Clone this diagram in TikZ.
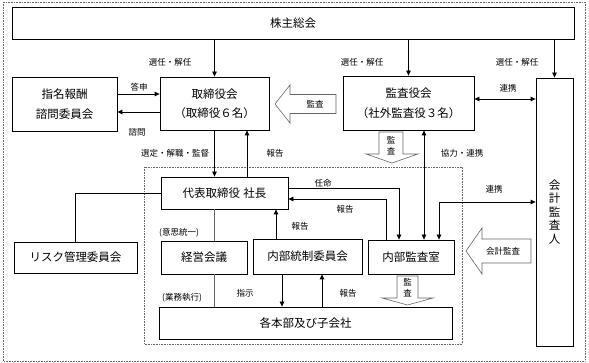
\documentclass[tikz,border=0pt]{standalone}
\usepackage{fontspec}
\newfontfamily\cjk{Noto Sans CJK JP}
\usetikzlibrary{arrows.meta,calc}
\begin{document}
\begin{tikzpicture}[x=1pt,y=-1pt,
  box/.style={draw, line width=0.8pt, rectangle, inner sep=0pt, font=\cjk\fontsize{11.5}{19.5}\selectfont, align=center},
  lbl/.style={font=\cjk\fontsize{8.5}{11}\selectfont, inner sep=0pt, align=center},
  con/.style={line width=0.8pt},
  arr/.style={con, -{Triangle[length=5pt,width=4.5pt]}},
  darr/.style={con, {Triangle[length=5pt,width=4.5pt]}-{Triangle[length=5pt,width=4.5pt]}},
  hollow/.style={draw=black!60, fill=white, line width=0.6pt},
  thinline/.style={line width=0.5pt, black!60},
  frame/.style={densely dotted, line width=0.6pt, black!60}]
\useasboundingbox (0,0) rectangle (589,363);
\draw[frame] (3,2) rectangle (585,361);
\draw[frame] (144,167) rectangle (462,344);

% boxes
\node[box, minimum width=562pt, minimum height=32pt] (kabu) at (293,23) {株主総会};
\node[box, minimum width=109pt, minimum height=53pt] (tori) at (214.5,103.5) {取締役会\\（取締役６名）};
\node[box, minimum width=105pt, minimum height=54pt] (shimei) at (64.5,104) {指名報酬\\諮問委員会};
\node[box, minimum width=131pt, minimum height=54pt] (kansa) at (408.5,103) {監査役会\\（社外監査役３名）};
\node[box, minimum width=37pt, minimum height=268pt, font=\cjk\fontsize{11.5}{13.5}\selectfont] (kaikei) at (554.5,212) {会\\計\\監\\査\\人};
\node[box, minimum width=127pt, minimum height=32pt] (daihyo) at (224.5,193) {代表取締役\hspace{0.3em}社長};
\node[box, minimum width=123pt, minimum height=31pt] (risk) at (75.5,257.5) {リスク管理委員会};
\node[box, minimum width=86pt, minimum height=33pt] (keiei) at (204,257.5) {経営会議};
\node[box, minimum width=109pt, minimum height=35pt] (naibu) at (307.5,256.5) {内部統制委員会};
\node[box, minimum width=86pt, minimum height=34pt] (naikan) at (411,257) {内部監査室};
\node[box, minimum width=293pt, minimum height=32pt] (kakuhon) at (305.5,323) {各本部及び子会社};

% helper coordinates
\coordinate (toshin) at ([yshift=10pt]shimei.east);
\coordinate (shimon) at ([yshift=-8pt]shimei.east);
\coordinate (renkei1) at ([yshift=4pt]kansa.east);
\coordinate (hokoku1) at ([xshift=22.5pt]daihyo.north);
\coordinate (keieiTop) at ([xshift=10pt]keiei.north);
\coordinate (keieiBot) at ([xshift=10pt]keiei.south);
\coordinate (naibuUp) at ([xshift=-31.5pt]naibu.north);
\coordinate (ninmeiS) at ([yshift=5pt]daihyo.east);
\coordinate (ninmeiE) at ([xshift=-12pt]naikan.north);
\coordinate (hokokuS) at ([xshift=-25pt]naikan.north);
\coordinate (hokokuE) at ([yshift=-6pt]daihyo.east);
\coordinate (kyoryoku) at ([xshift=13pt]naikan.north);
\coordinate (renkei2S) at ([yshift=10pt]kaikei.west);
\coordinate (renkei2E) at ([xshift=28pt]naikan.north);
\coordinate (shiji) at ([xshift=-25.5pt]naibu.south);
\coordinate (hokoku3) at ([xshift=14.5pt]naibu.south);

% connectors
\draw[arr] (kabu.south -| tori.north) -- (tori.north);
\draw[arr] (kabu.south -| kansa.north) -- (kansa.north);
\draw[arr] (kabu.south -| kaikei.north) -- (kaikei.north);
\draw[arr] (toshin) -- (toshin -| tori.west);
\draw[arr] (shimon -| tori.west) -- (shimon);
\draw[darr] (renkei1) -- (renkei1 -| kaikei.west);
\draw[arr] (tori.south) -- (tori.south |- daihyo.north);
\draw[arr] (hokoku1) -- (hokoku1 |- tori.south);
\draw[con] (daihyo.west) -| (risk.north);
\draw[thinline] (keieiTop |- daihyo.south) -- (keieiTop);
\draw[thinline] (keieiBot) -- (keieiBot |- kakuhon.north);
\draw[arr] (naibuUp) -- (naibuUp |- daihyo.south);
\draw[arr] (ninmeiS) -| (ninmeiE);
\draw[arr] (hokokuS) |- (hokokuE);
\draw[darr] (kyoryoku |- kansa.south) -- (kyoryoku);
\draw[darr] (renkei2S) -| (renkei2E);
\draw[arr] (shiji) -- (shiji |- kakuhon.north);
\draw[arr] (hokoku3 |- kakuhon.north) -- (hokoku3);

% hollow arrows
\draw[hollow] (336,94.5) -- (290,94.5) -- (290,85) -- (275,104) -- (290,123) -- (290,113.5) -- (336,113.5) -- cycle;
\draw[hollow] (379,132) -- (379,154) -- (366,154) -- (392,163) -- (418,154) -- (403,154) -- (403,132) -- cycle;
\draw[hollow] (531,239) -- (482,239) -- (482,228) -- (466,251) -- (482,274) -- (482,263) -- (531,263) -- cycle;
\draw[hollow] (397,276) -- (397,298) -- (382,298) -- (407.5,305) -- (433,298) -- (418,298) -- (418,276) -- cycle;

% labels
\node[lbl] (l1) at (170,62) {選任・解任};
\node[lbl] (l2) at (362,62) {選任・解任};
\node[lbl] (l3) at (517,62) {選任・解任};
\node[lbl] (l4) at (139,87) {答申};
\node[lbl] (l5) at (137,132) {諮問};
\node[lbl] (l6) at (315,104.5) {監査};
\node[lbl] (l7) at (508,88) {連携};
\node[lbl] (l8) at (391,146) {監\\査};
\node[lbl] (l9) at (462,153) {協力・連携};
\node[lbl] (l10) at (175,153) {選定・解職・監督};
\node[lbl] (l11) at (275,153) {報告};
\node[lbl] (l12) at (323,183) {任命};
\node[lbl] (l13) at (345,209) {報告};
\node[lbl] (l14) at (300,226) {報告};
\node[lbl] (l15) at (494,189) {連携};
\node[lbl] (l16) at (179,233) {(意思統一)};
\node[lbl] (l17) at (503,251) {会計監査};
\node[lbl] (l18) at (407.5,288) {監\\査};
\node[lbl] (l19) at (182,298) {(業務執行)};
\node[lbl] (l20) at (245,293) {指示};
\node[lbl] (l21) at (348,293) {報告};
\end{tikzpicture}
\end{document}
